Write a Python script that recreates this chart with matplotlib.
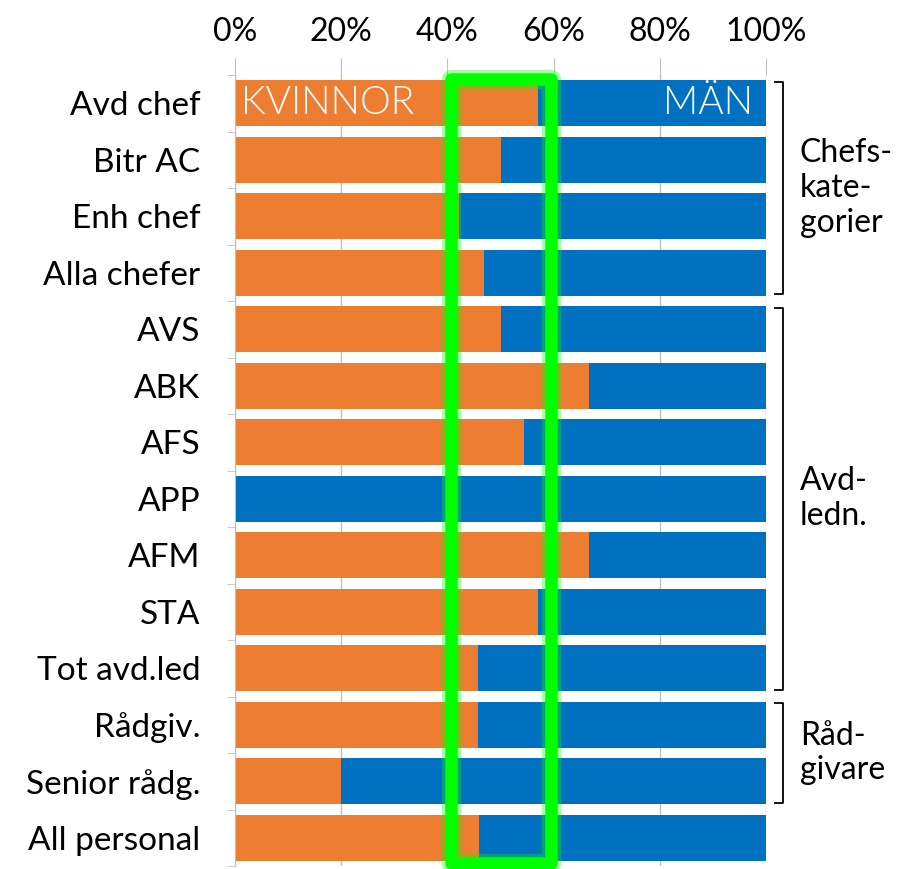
import matplotlib.pyplot as plt
import matplotlib.transforms as mtransforms
from matplotlib.patches import Rectangle

plt.rcParams['font.family'] = ['Lato', 'DejaVu Sans']

categories = ['Avd chef', 'Bitr AC', 'Enh chef', 'Alla chefer', 'AVS', 'ABK', 'AFS',
              'APP', 'AFM', 'STA', 'Tot avd.led', 'Rådgiv.', 'Senior rådg.', 'All personal']
women = [57.1, 50.0, 42.2, 46.8, 50.0, 66.7, 54.5, 0.0, 66.7, 57.1, 45.8, 45.8, 20.0, 46.0]
men = [100 - w for w in women]
x_ticks = [0, 20, 40, 60, 80, 100]
x_labels = ['0%', '20%', '40%', '60%', '80%', '100%']
groups = [('Chefs-\nkate-\ngorier', 0, 3), ('Avd-\nledn.', 4, 10), ('Råd-\ngivare', 11, 12)]

orange = '#ED7D31'
blue = '#0070C0'
grid = '#BFBFBF'

fig = plt.figure(figsize=(8.99, 8.69), dpi=100)
ax = fig.add_axes([235 / 899, 3 / 869, 531 / 899, 791 / 869])

y = list(range(len(categories)))
ax.barh(y, women, height=0.82, color=orange, zorder=2)
ax.barh(y, men, left=women, height=0.82, color=blue, zorder=2)

ax.set_xlim(0, 100)
ax.set_ylim(13.5, -0.5)
ax.set_xticks(x_ticks)
ax.set_xticklabels(x_labels, fontsize=23)
ax.xaxis.tick_top()
ax.tick_params(axis='x', length=12, color=grid, pad=8)
ax.grid(axis='x', color=grid, linewidth=1, zorder=0)

ax.set_yticks(y)
ax.set_yticklabels(categories, fontsize=24)
ax.set_yticks([i - 0.5 for i in range(len(categories) + 1)], minor=True)
ax.tick_params(axis='y', which='major', length=0, pad=25)
ax.tick_params(axis='y', which='minor', length=6, color=grid)

for s in ['top', 'right', 'bottom']:
    ax.spines[s].set_visible(False)
ax.spines['left'].set_color(grid)

ax.text(1.2, 0, 'KVINNOR', color='white', fontsize=28, fontweight=300,
        va='center', ha='left', zorder=3)
ax.text(97.5, 0, 'MÄN', color='white', fontsize=28, fontweight=300,
        va='center', ha='right', zorder=3)

# green highlight box 40-60 %
for lw, a in [(14, 0.35), (9, 1.0)]:
    ax.add_patch(Rectangle((40.7, -0.43), 18.8, 13.88, fill=False, edgecolor='#00FF00',
                           linewidth=lw, alpha=a, zorder=4, clip_on=False, joinstyle='round'))

# group brackets on the right
trans = mtransforms.blended_transform_factory(ax.transAxes, ax.transData)
for label, start, end in groups:
    y0, y1 = start - 0.38, end + 0.38
    ax.plot([1.017, 1.032, 1.032, 1.017], [y0, y0, y1, y1], color='black', lw=1.3,
            transform=trans, clip_on=False)
    ax.text(1.064, (y0 + y1) / 2, label, fontsize=23, ha='left', va='center',
            linespacing=1.2, transform=trans)

plt.savefig('out.png', dpi=100)
